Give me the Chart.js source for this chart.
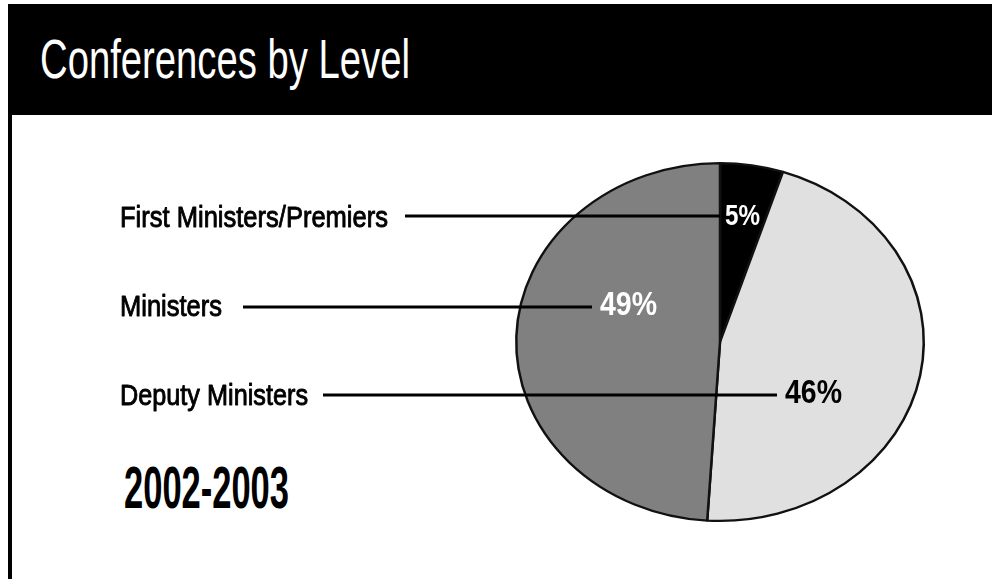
<!DOCTYPE html>
<html>
<head>
<meta charset="utf-8">
<script src="https://cdn.jsdelivr.net/npm/chart.js@4.4.1/dist/chart.umd.min.js"></script>
<style>
  html, body { margin:0; padding:0; background:#fff; width:992px; height:579px; overflow:hidden; }
  #frame { position:absolute; left:8px; top:4px; width:984px; height:575px; border-left:4px solid #000; box-sizing:border-box; }
  #header { position:absolute; left:8px; top:4px; width:984px; height:111px; background:#000; }
  .fit { position:absolute; white-space:nowrap; transform-origin:0 0; margin:0; padding:0; }
  #title { color:#fff; font-family:'Liberation Sans Narrow','Liberation Sans',Arial,sans-serif; font-weight:400; }
  #year { color:#000; font-family:'Liberation Sans Narrow','Liberation Sans',Arial,sans-serif; font-weight:700; }
  #chart { position:absolute; left:0; top:0; }
</style>
</head>
<body>
<div id="frame"></div>
<div id="header"></div>
<div id="title" class="fit"></div>
<div id="year" class="fit"></div>
<canvas id="chart" width="992" height="579"></canvas>
<script>
// ---- data ----
const titleText = 'Conferences by Level';
const yearLabel = '2002-2003';
const categories = ['First Ministers/Premiers', 'Deputy Ministers', 'Ministers'];
const shares = [5, 46, 49];
const shareLabels = ['5%', '46%', '49%'];
const sliceColors = ['#000000', '#e0e0e0', '#808080'];
const shareTextColors = ['#ffffff', '#000000', '#ffffff'];

// ---- layout / style ----
const FONT = "'Liberation Sans Narrow','Liberation Sans',Arial,sans-serif";
const ELLIPSE_Y = 180 / 205;
// per category: label left x, baseline, width; leader line y, x0, x1; pct text x, baseline, width, size
const labelLayout = [
  { lx:120, lb:227, lw:268, ly:216, x0:405, x1:720, px:725, pb:225, pw:35, ps:30 },
  { lx:120, lb:405, lw:188, ly:395, x0:323, x1:777, px:785, pb:403, pw:57, ps:34 },
  { lx:120, lb:316, lw:102, ly:307, x0:243, x1:592, px:600, pb:315, pw:57, ps:34 }
];

function placeHtmlText(el, text, left, baseline, width, size, weight) {
  el.textContent = text;
  const c = document.createElement('canvas').getContext('2d');
  c.font = weight + ' ' + size + 'px ' + FONT;
  const m = c.measureText(text);
  const asc = m.fontBoundingBoxAscent || size * 0.905;
  const desc = m.fontBoundingBoxDescent || size * 0.212;
  el.style.fontSize = size + 'px';
  el.style.lineHeight = (asc + desc) + 'px';
  el.style.left = left + 'px';
  el.style.top = (baseline - asc) + 'px';
  el.style.transform = 'scaleX(' + (width / m.width) + ')';
}
placeHtmlText(document.getElementById('title'), titleText, 40, 78, 370, 55, 400);
placeHtmlText(document.getElementById('year'), yearLabel, 124, 508, 165, 59, 700);

function fitText(ctx, text, x, baseline, w, font, color, thicken) {
  ctx.save();
  ctx.font = font;
  const m = ctx.measureText(text).width;
  ctx.translate(x, baseline);
  ctx.scale(w / m, 1);
  ctx.fillStyle = color;
  ctx.textBaseline = 'alphabetic';
  ctx.textAlign = 'left';
  ctx.fillText(text, 0, 0);
  if (thicken) {
    ctx.strokeStyle = color;
    ctx.lineWidth = thicken;
    ctx.lineJoin = 'round';
    ctx.strokeText(text, 0, 0);
  }
  ctx.restore();
}

const ellipsePlugin = {
  id: 'ellipse',
  beforeDatasetsDraw(chart) {
    const a = chart.getDatasetMeta(0).data[0];
    const ctx = chart.ctx;
    ctx.save();
    ctx.translate(a.x, a.y);
    ctx.scale(1, ELLIPSE_Y);
    ctx.translate(-a.x, -a.y);
  },
  afterDatasetsDraw(chart) {
    chart.ctx.restore();
  }
};

const labelPlugin = {
  id: 'leaderLabels',
  afterDraw(chart) {
    const ctx = chart.ctx;
    const labels = chart.data.labels;
    labels.forEach((lab, i) => {
      const L = labelLayout[i];
      ctx.save();
      ctx.strokeStyle = '#000';
      ctx.lineWidth = 3;
      ctx.beginPath();
      ctx.moveTo(L.x0, L.ly);
      ctx.lineTo(L.x1, L.ly);
      ctx.stroke();
      ctx.restore();
      fitText(ctx, lab, L.lx, L.lb, L.lw, '400 29px ' + FONT, '#000', 0.9);
      fitText(ctx, shareLabels[i], L.px, L.pb, L.pw, '700 ' + L.ps + 'px ' + FONT, shareTextColors[i], 0);
    });
  }
};

new Chart(document.getElementById('chart'), {
  type: 'pie',
  data: {
    labels: categories,
    datasets: [{
      data: shares,
      backgroundColor: sliceColors,
      borderColor: '#111111',
      borderWidth: 2.5
    }]
  },
  options: {
    responsive: false,
    devicePixelRatio: 1,
    animation: false,
    rotation: 0,
    layout: { padding: { left: 515, top: 137, right: 67, bottom: 32 } },
    plugins: { legend: { display: false }, tooltip: { enabled: false }, title: { display: false } },
    events: []
  },
  plugins: [ellipsePlugin, labelPlugin]
});
</script>
</body>
</html>
